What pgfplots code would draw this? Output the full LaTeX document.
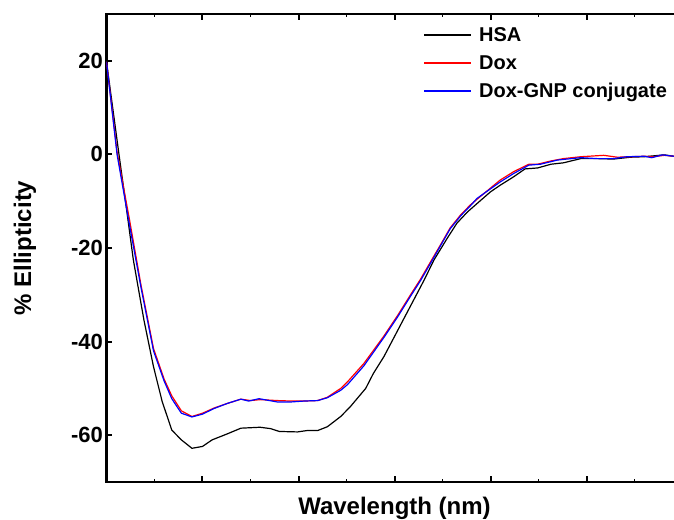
\documentclass[border=0pt]{standalone}
\usepackage{fontspec}
\setmainfont{Liberation Sans}
\usepackage{pgfplots}
\pgfplotsset{compat=1.18}

\begin{document}
\begin{tikzpicture}
% the reference is cut at the right edge, so keep the same frame
\useasboundingbox (-106.5pt,-37pt) rectangle (567.5pt,482pt);
\clip (-106.5pt,-37pt) rectangle (567.5pt,482pt);
\begin{axis}[
  at={(0pt,0pt)}, anchor=south west,
  scale only axis, width=576pt, height=468pt,
  xmin=200, xmax=260, ymin=-70, ymax=30,
  xtick={200,210,...,260}, xticklabels={},
  minor x tick num=1,
  ytick={-60,-40,...,20},
  axis line style={line width=2.5pt},
  tick align=inside,
  major tick length=6pt, minor tick length=3.5pt,
  every major tick/.style={line width=2pt, black},
  every minor tick/.style={line width=1pt, black},
  /pgf/number format/assume math mode=true,
  yticklabel style={font=\bfseries\fontsize{22}{26}\selectfont},
  xlabel={Wavelength (nm)},
  ylabel={\% Ellipticity},
  every axis x label/.style={at={(axis description cs:0.5,-0.069)}, anchor=base,
    font=\bfseries\fontsize{24}{28}\selectfont},
  every axis y label/.style={at={(axis description cs:-0.1415,0.5)}, rotate=90, anchor=center,
    font=\bfseries\fontsize{24}{28}\selectfont},
  no markers,
  legend cell align=left,
  legend style={draw=none, fill=none, at={(axis description cs:0.550,0.9715)},
    anchor=north west, inner sep=0pt, column sep=7pt, row sep=12.4pt,
    font=\bfseries\fontsize{20}{24}\selectfont,
    nodes={inner sep=0pt}},
  legend image code/.code={\draw[#1, line width=1.6pt] (0pt,0pt) -- (47pt,0pt);},
]
\addplot[black, line width=1.2pt] coordinates {
(200.0,19.8) (201.3,0.0) (202.1,-11.9) (202.8,-22.6) (203.9,-35.4)
(204.9,-45.4) (205.8,-52.8) (206.8,-58.9) (207.8,-61.0) (208.9,-62.8)
(210.0,-62.4) (211.0,-61.0) (212.6,-59.7) (214.0,-58.5) (216.0,-58.3)
(217.1,-58.6) (218.0,-59.2) (219.9,-59.3) (220.9,-59.0) (222.0,-59.0)
(223.0,-58.2) (224.4,-56.0) (225.4,-53.9) (227.0,-50.0) (227.8,-46.8)
(228.9,-43.2) (229.9,-39.3) (231.0,-35.0) (232.0,-31.1) (233.1,-26.8)
(234.1,-22.6) (235.5,-17.9) (236.5,-14.7) (237.6,-12.3) (238.6,-10.5)
(240.0,-8.0) (241.0,-6.6) (242.4,-4.8) (243.6,-3.1) (244.9,-2.9)
(246.3,-2.1) (247.6,-1.8) (249.4,-0.9) (251.1,-0.9) (252.8,-1.0)
(254.6,-0.6) (256.0,-0.5) (258.1,-0.1) (259.1,-0.4) (260.0,-0.5)
};
\addlegendentry{HSA}
\addplot[red, line width=1.2pt] coordinates {
(200.0,19.8) (201.1,0.5) (202.4,-14.0) (203.6,-28.0) (204.9,-41.5)
(206.0,-48.0) (206.8,-51.6) (207.8,-54.8) (208.9,-56.0) (210.0,-55.3)
(211.2,-54.2) (212.6,-53.2) (214.0,-52.3) (215.0,-52.6) (216.0,-52.4)
(217.8,-52.6) (219.2,-52.7) (220.6,-52.7) (222.0,-52.6) (223.0,-51.9)
(224.4,-50.0) (225.1,-48.6) (226.8,-44.7) (227.8,-41.9) (228.9,-38.8)
(230.3,-34.5) (231.7,-29.9) (232.7,-26.7) (233.8,-22.8) (234.8,-19.3)
(235.8,-15.7) (236.9,-12.9) (237.9,-10.8) (239.0,-8.9) (241.0,-5.5)
(242.4,-3.7) (244.0,-2.1) (244.9,-2.1) (246.3,-1.4) (247.6,-0.9)
(249.4,-0.5) (251.8,-0.2) (253.2,-0.6) (254.6,-0.5) (256.0,-0.4)
(257.0,-0.5) (258.1,-0.2) (259.1,-0.4) (260.0,-0.5)
};
\addlegendentry{Dox}
\addplot[blue, line width=1.2pt] coordinates {
(200.0,19.8) (201.1,0.0) (202.3,-14.0) (203.6,-28.5) (204.9,-42.0)
(206.0,-48.4) (206.8,-52.2) (207.8,-55.3) (208.9,-56.1) (210.0,-55.5)
(211.2,-54.3) (212.6,-53.2) (214.0,-52.3) (214.8,-52.7) (215.9,-52.2)
(216.7,-52.5) (217.8,-52.9) (219.2,-52.9) (220.6,-52.7) (222.0,-52.6)
(223.0,-52.0) (224.4,-50.4) (225.1,-49.2) (226.8,-45.2) (227.8,-42.3)
(228.9,-39.1) (230.3,-34.8) (231.7,-30.2) (232.7,-27.0) (233.8,-23.1)
(234.8,-19.5) (235.8,-15.9) (236.9,-13.1) (237.9,-11.0) (238.6,-9.4)
(241.0,-5.9) (242.4,-4.1) (244.0,-2.3) (245.2,-2.1) (247.0,-1.2)
(249.4,-0.7) (251.1,-0.9) (252.8,-0.9) (254.2,-0.5) (256.0,-0.4)
(256.8,-0.7) (257.9,-0.1) (259.1,-0.4) (260.0,-0.5)
};
\addlegendentry{Dox-GNP conjugate}
\end{axis}
\end{tikzpicture}
\end{document}
